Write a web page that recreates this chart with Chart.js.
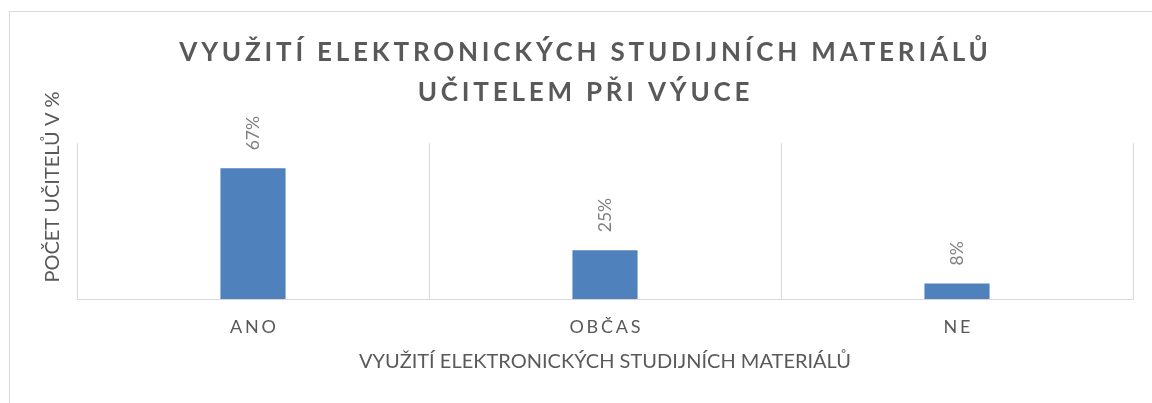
<!DOCTYPE html>
<html lang="cs">
<head>
<meta charset="utf-8">
<script src="https://cdn.jsdelivr.net/npm/chart.js@4.4.1/dist/chart.umd.min.js"></script>
<style>
  html, body { margin: 0; padding: 0; background: #fff; overflow: hidden; }
  #ramecek { position: absolute; left: 9px; top: 11px; width: 1300px; height: 600px; border: 1px solid #d9d9d9; box-sizing: border-box; }
  #obal { position: absolute; left: 0; top: 0; width: 1152px; height: 403px; }
</style>
</head>
<body>
<div id="ramecek"></div>
<div id="obal"><canvas id="graf"></canvas></div>
<script>
// data grafu
const kategorie = ['ANO', 'OBČAS', 'NE'];
const podilUcitelu = [67, 25, 8];
const nadpis = ['VYUŽITÍ ELEKTRONICKÝCH STUDIJNÍCH MATERIÁLŮ', 'UČITELEM PŘI VÝUCE'];
const popisOsyX = 'VYUŽITÍ ELEKTRONICKÝCH STUDIJNÍCH MATERIÁLŮ';
const popisOsyY = 'POČET UČITELŮ V %';

const sedaText = '#595959';
const sedaMrizka = '#d9d9d9';
const pismo = 'Lato';

// proložení písmen u nadpisu a popisků kategorií, posun nadpisu a popisu osy Y
const prolozeni = {
    id: 'prolozeni',
    afterLayout(chart) {
        const ctx = chart.ctx;
        const obal = (obj, metoda, nastav) => {
            if (obj[metoda]._obaleno) return;
            const puvodni = obj[metoda];
            const nova = function () {
                ctx.save();
                nastav(ctx);
                const r = puvodni.apply(this, arguments);
                ctx.restore();
                return r;
            };
            nova._obaleno = true;
            obj[metoda] = nova;
        };
        obal(chart.titleBlock, 'draw', c => { c.translate(19, 0); c.letterSpacing = '3.8px'; });
        obal(chart.scales.x, 'drawLabels', c => { c.translate(1.4, 0); c.letterSpacing = '2.8px'; });
        obal(chart.scales.y, 'drawTitle', c => { c.translate(0, -34); });
    }
};

// svislé popisky hodnot nad sloupci
const popisky = {
    id: 'popisky',
    afterDatasetsDraw(chart) {
        const ctx = chart.ctx;
        const meta = chart.getDatasetMeta(0);
        ctx.save();
        ctx.font = '17.5px ' + pismo;
        ctx.fillStyle = '#7f7f7f';
        ctx.textAlign = 'left';
        ctx.textBaseline = 'middle';
        meta.data.forEach((sloupec, i) => {
            ctx.save();
            ctx.translate(sloupec.x, sloupec.y - 18);
            ctx.rotate(-Math.PI / 2);
            ctx.fillText(podilUcitelu[i] + '%', 0, 0);
            ctx.restore();
        });
        ctx.restore();
    }
};

var ctx = document.getElementById('graf').getContext('2d');
var graf = new Chart(ctx, {
    type: 'bar',
    data: {
        labels: kategorie,
        datasets: [{
            data: podilUcitelu,
            backgroundColor: '#4f81bd',
            borderWidth: 0,
            barPercentage: 0.185,
            categoryPercentage: 1
        }]
    },
    plugins: [prolozeni, popisky],
    options: {
        responsive: true,
        maintainAspectRatio: false,
        animation: false,
        layout: { padding: { left: 0, right: 19, top: 0, bottom: 0 } },
        plugins: {
            legend: { display: false },
            tooltip: { enabled: false },
            title: {
                display: true,
                text: nadpis,
                color: sedaText,
                font: { family: pismo, size: 26, weight: 'bold', lineHeight: '40px' },
                padding: { top: 32.5, bottom: 30.5 }
            }
        },
        scales: {
            x: {
                grid: { offset: true, color: sedaMrizka, drawTicks: false },
                border: { color: sedaMrizka },
                ticks: { color: sedaText, font: { family: pismo, size: 18 }, padding: 17 },
                title: {
                    display: true,
                    text: popisOsyX,
                    color: sedaText,
                    font: { family: pismo, size: 20 },
                    padding: { top: 0, bottom: 29 }
                },
                afterFit(s) { s.height = 104; }
            },
            y: {
                min: 0,
                max: 80,
                ticks: { display: false },
                grid: { display: false, drawTicks: false },
                border: { display: false },
                title: {
                    display: true,
                    text: popisOsyY,
                    color: sedaText,
                    font: { family: pismo, size: 20 },
                    padding: { top: 41, bottom: 0 }
                },
                afterFit(s) { s.width = 77; }
            }
        }
    }
});
</script>
</body>
</html>
